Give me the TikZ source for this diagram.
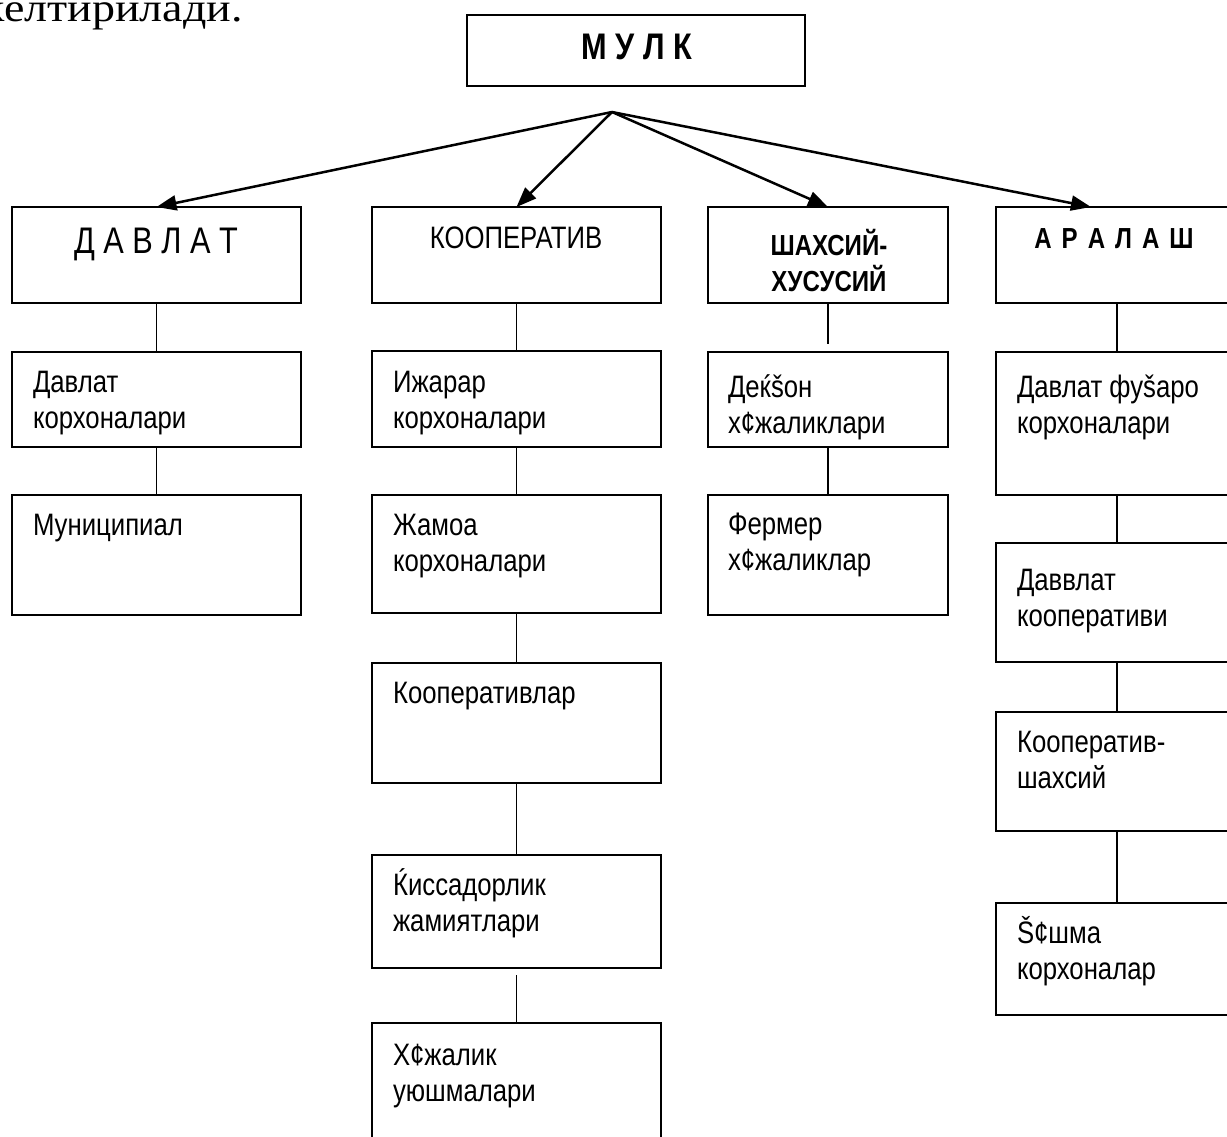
\documentclass[tikz,border=0pt]{standalone}
\usepackage{fontspec}
\setmainfont{Liberation Sans}[FakeStretch=0.83]
\newfontfamily\topserif{Liberation Serif}[FakeStretch=1.15]
\usetikzlibrary{arrows.meta}
\newcommand{\bodyfont}{\fontsize{31}{36}\selectfont}
\newcommand{\twoln}[2]{\begin{tabular}[t]{@{}l@{}}#1\\#2\end{tabular}}
\newcommand{\twolc}[2]{\begin{tabular}[t]{@{}c@{}}#1\\#2\end{tabular}}
\begin{document}
\begin{tikzpicture}[x=1pt,y=-1pt,
  box/.style={draw, line width=1.8pt, rectangle, inner sep=0pt, outer sep=0pt},
  link/.style={line width=1.5pt},
  arr/.style={line width=2.5pt, -{Triangle[length=20pt,width=15pt]}},
  txt/.style={inner sep=0pt, outer sep=0pt, font=\bodyfont, anchor=base west},
  head/.style={inner sep=0pt, outer sep=0pt, anchor=base}]

\useasboundingbox (0,0) rectangle (1227,1137);
\clip (0,0) rectangle (1227,1137);

% intro text (cut at left edge)
\node[anchor=base east, inner sep=0pt, font=\topserif\fontsize{40}{44}\selectfont] (intro) at (243,22) {келтирилади.};

% top box
\node[box, minimum width=338pt, minimum height=71pt] (mulk) at (636,50.5) {};
\node[head, font=\bfseries\fontsize{37}{40}\selectfont] (mulkt) at (637,60) {М У Л К};
\coordinate (apex) at (612,112);

% column 1
\node[box, minimum width=289pt, minimum height=96pt] (dav) at (156.5,255) {};
\node[box, minimum width=289pt, minimum height=95pt] (dav1) at (156.5,399.5) {};
\node[box, minimum width=289pt, minimum height=120pt] (dav2) at (156.5,555) {};

% column 2
\node[box, minimum width=289pt, minimum height=96pt] (koop) at (516.5,255) {};
\node[box, minimum width=289pt, minimum height=96pt] (k1) at (516.5,399) {};
\node[box, minimum width=289pt, minimum height=118pt] (k2) at (516.5,554) {};
\node[box, minimum width=289pt, minimum height=120pt] (k3) at (516.5,723) {};
\node[box, minimum width=289pt, minimum height=113pt] (k4) at (516.5,911.5) {};
\node[box, minimum width=289pt, minimum height=140pt] (k5) at (516.5,1093) {};

% column 3
\node[box, minimum width=240pt, minimum height=96pt] (sh) at (828,255) {};
\node[box, minimum width=240pt, minimum height=95pt] (s1) at (828,399.5) {};
\node[box, minimum width=240pt, minimum height=120pt] (s2) at (828,555) {};

% column 4
\node[box, minimum width=242pt, minimum height=96pt] (ar) at (1117,255) {};
\node[box, minimum width=242pt, minimum height=143pt] (a1) at (1117,423.5) {};
\node[box, minimum width=242pt, minimum height=119pt] (a2) at (1117,602.5) {};
\node[box, minimum width=242pt, minimum height=119pt] (a3) at (1117,771.5) {};
\node[box, minimum width=242pt, minimum height=112pt] (a4) at (1117,959) {};

% headings
\node[head, font=\fontsize{37}{40}\selectfont] (davt) at (156,253) {Д А В Л А Т};
\node[head, font=\fontsize{31}{36}\selectfont] (koopt) at (516,248) {КООПЕРАТИВ};
\node[head, font=\bfseries\fontsize{29}{33}\selectfont] (sht) at (829,255) {\twolc{ШАХСИЙ-}{ХУСУСИЙ}};
\node[head, font=\bfseries\fontsize{29}{33}\selectfont] (art) at (1114,248)
  {А\hspace{10pt}Р\hspace{10pt}А\hspace{10pt}Л\hspace{10pt}А\hspace{10pt}Ш};

% body texts
\node[txt] (dav1t) at ([shift={(21,40)}]dav1.north west) {\twoln{Давлат}{корхоналари}};
\node[txt] (dav2t) at ([shift={(21,40)}]dav2.north west) {Муниципиал};
\node[txt] (k1t) at ([shift={(21,41)}]k1.north west) {\twoln{Ижарар}{корхоналари}};
\node[txt] (k2t) at ([shift={(21,40)}]k2.north west) {\twoln{Жамоа}{корхоналари}};
\node[txt] (k3t) at ([shift={(21,40)}]k3.north west) {Кооперативлар};
\node[txt] (k4t) at ([shift={(21,40)}]k4.north west) {\twoln{Ќиссадорлик}{жамиятлари}};
\node[txt] (k5t) at ([shift={(21,42)}]k5.north west) {\twoln{Х¢жалик}{уюшмалари}};
\node[txt] (s1t) at ([shift={(20,45)}]s1.north west) {\twoln{Деќšон}{х¢жаликлари}};
\node[txt] (s2t) at ([shift={(20,39)}]s2.north west) {\twoln{Фермер}{х¢жаликлар}};
\node[txt] (a1t) at ([shift={(21,45)}]a1.north west) {\twoln{Давлат фуšаро}{корхоналари}};
\node[txt] (a2t) at ([shift={(21,47)}]a2.north west) {\twoln{Даввлат}{кооперативи}};
\node[txt] (a3t) at ([shift={(21,40)}]a3.north west) {\twoln{Кооператив-}{шахсий}};
\node[txt] (a4t) at ([shift={(21,40)}]a4.north west) {\twoln{Š¢шма}{корхоналар}};

% arrows
\draw[arr] (apex) -- (dav.north);
\draw[arr] (apex) -- (koop.north);
\draw[arr] (apex) -- (sh.north);
\draw[arr] (apex) -- ([shift={(-26,0)}]ar.north);

% vertical links
\draw[link] (dav.south) -- (dav1.north);
\draw[link] (dav1.south) -- (dav2.north);
\draw[link] (koop.south) -- (k1.north);
\draw[link] (k1.south) -- (k2.north);
\draw[link] (k2.south) -- (k3.north);
\draw[link] (k3.south) -- (k4.north);
\draw[link, shorten <=7pt] (k4.south) -- (k5.north);
\draw[link, shorten >=8pt] (sh.south) -- (s1.north);
\draw[link] (s1.south) -- (s2.north);
\draw[link] (ar.south) -- (a1.north);
\draw[link] (a1.south) -- (a2.north);
\draw[link] (a2.south) -- (a3.north);
\draw[link] (a3.south) -- (a4.north);
\end{tikzpicture}
\end{document}
